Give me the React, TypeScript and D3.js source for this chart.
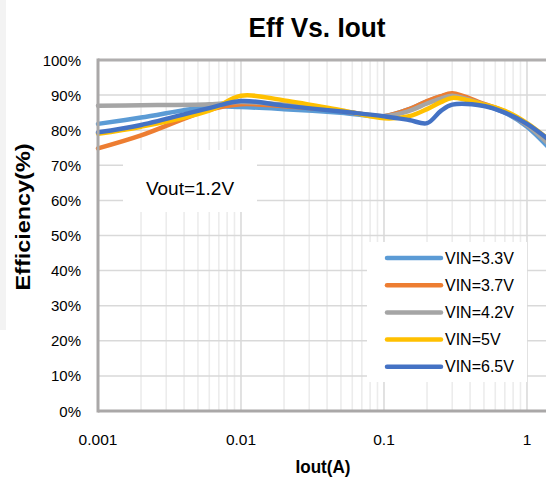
import React from "react";
import * as d3 from "d3";

const iout = [0.001, 0.002, 0.006, 0.01, 0.02, 0.05, 0.1, 0.15, 0.2, 0.25, 0.3, 0.5, 0.7, 1, 1.5];
const vin33 = [81.8, 83.6, 86.7, 86.6, 86.0, 85.0, 84.0, 86.0, 88.2, 89.6, 90.2, 87.2, 85.0, 81.0, 74.0];
const vin37 = [74.8, 78.5, 85.8, 87.4, 86.8, 85.5, 84.0, 86.0, 88.3, 89.7, 90.5, 87.5, 85.3, 81.5, 75.5];
const vin42 = [87.0, 87.1, 87.4, 88.0, 87.3, 85.5, 84.0, 85.5, 87.6, 89.0, 89.8, 87.3, 85.2, 81.5, 75.0];
const vin5 = [79.0, 81.0, 85.6, 89.8, 88.5, 85.7, 83.4, 84.0, 86.0, 88.0, 89.2, 87.3, 85.5, 82.0, 76.5];
const vin65 = [79.4, 81.5, 86.3, 88.3, 87.0, 85.3, 84.0, 82.9, 82.0, 85.5, 87.3, 86.9, 85.0, 81.8, 76.5];

const seriesNames = ["VIN=3.3V", "VIN=3.7V", "VIN=4.2V", "VIN=5V", "VIN=6.5V"];
const seriesValues = [vin33, vin37, vin42, vin5, vin65];
const seriesColors = ["#5B9BD5", "#ED7D31", "#A5A5A5", "#FFC000", "#4472C4"];

const xTicks = [0.001, 0.01, 0.1, 1];
const xTickLabels = ["0.001", "0.01", "0.1", "1"];
const yTicks = [0, 10, 20, 30, 40, 50, 60, 70, 80, 90, 100];

const W = 546;
const H = 479;
const left = 98;
const top = 60;
const bottom = 411;

export default function App() {
  const x = d3.scaleLog().domain([0.001, 1]).range([left, 527]);
  const y = d3.scaleLinear().domain([0, 100]).range([bottom, top]);
  const xMax = 2;
  const right = x(xMax);

  const minor: number[] = [];
  for (let dec = 0.001; dec < xMax; dec *= 10) {
    for (let k = 2; k <= 9; k++) {
      const v = dec * k;
      if (v < xMax) minor.push(v);
    }
  }

  const line = d3
    .line<[number, number]>()
    .x((d) => x(d[0]))
    .y((d) => y(d[1]))
    .curve(d3.curveCatmullRom.alpha(0.5));

  const font = "'Liberation Sans', Arial, sans-serif";

  return (
    <svg
      width={W}
      height={H}
      style={{ position: "absolute", left: 0, top: 0, background: "#fff" }}
      fontFamily={font}
    >
      <rect x={0} y={0} width={W} height={H} fill="#fff" />
      <rect x={0} y={0} width={6} height={330} fill="#f3f3f3" />

      {/* minor vertical gridlines */}
      {minor.map((v, i) => (
        <line key={"m" + i} x1={x(v)} x2={x(v)} y1={top} y2={bottom} stroke="#ececec" strokeWidth={1.6} />
      ))}
      {/* major vertical gridlines */}
      {xTicks.slice(1).map((v, i) => (
        <line key={"M" + i} x1={x(v)} x2={x(v)} y1={top} y2={bottom} stroke="#d2d2d2" strokeWidth={1.3} />
      ))}
      {/* horizontal gridlines */}
      {yTicks.slice(1, -1).map((v) => (
        <line key={"h" + v} x1={left} x2={right} y1={y(v)} y2={y(v)} stroke="#d9d9d9" strokeWidth={1.5} />
      ))}

      {/* Vout box */}
      <rect x={123} y={150} width={134} height={62} fill="#fff" />
      <text x={190} y={195} fontSize={19} textAnchor="middle" fill="#000">Vout=1.2V</text>

      {/* series */}
      {seriesValues.map((vals, si) => (
        <path
          key={"s" + si}
          d={line(iout.map((v, i) => [v, vals[i]] as [number, number])) || ""}
          fill="none"
          stroke={seriesColors[si]}
          strokeWidth={4.5}
          strokeLinejoin="round"
          strokeLinecap="round"
        />
      ))}

      {/* axes / border */}
      <line x1={left} x2={right} y1={top} y2={top} stroke="#b0aeae" strokeWidth={3} />
      <line x1={left} x2={left} y1={top - 1.5} y2={bottom + 1.5} stroke="#aaa8a8" strokeWidth={3} />
      <line x1={left} x2={right} y1={bottom} y2={bottom} stroke="#aaa8a8" strokeWidth={3} />

      {/* y tick labels */}
      {yTicks.map((v) => (
        <text key={"yt" + v} x={81} y={y(v) + 5.5} fontSize={15} textAnchor="end" fill="#000">
          {v + "%"}
        </text>
      ))}
      {/* x tick labels */}
      {xTicks.map((v, i) => (
        <text key={"xt" + i} x={x(v)} y={445} fontSize={15.5} textAnchor="middle" fill="#000">
          {xTickLabels[i]}
        </text>
      ))}

      {/* legend */}
      <rect x={367} y={242} width={160} height={140} fill="#fff" />
      {seriesNames.map((n, i) => {
        const ly = 258 + i * 27.2;
        return (
          <g key={"lg" + i}>
            <line x1={387} x2={441} y1={ly} y2={ly} stroke={seriesColors[i]} strokeWidth={4.5} strokeLinecap="round" />
            <text x={445} y={ly + 5.5} fontSize={16} fill="#000">{n}</text>
          </g>
        );
      })}

      {/* titles */}
      <text x={317} y={37} fontSize={28} fontWeight="bold" textAnchor="middle" textLength={137} lengthAdjust="spacingAndGlyphs" fill="#000">
        Eff Vs. Iout
      </text>
      <text x={323} y={473} fontSize={18} fontWeight="bold" textAnchor="middle" textLength={55} lengthAdjust="spacingAndGlyphs" fill="#000">
        Iout(A)
      </text>
      <text
        transform={`translate(30,217) rotate(-90)`}
        fontSize={21}
        fontWeight="bold"
        textAnchor="middle"
        textLength={147}
        lengthAdjust="spacingAndGlyphs"
        fill="#000"
      >
        Efficiency(%)
      </text>
    </svg>
  );
}
